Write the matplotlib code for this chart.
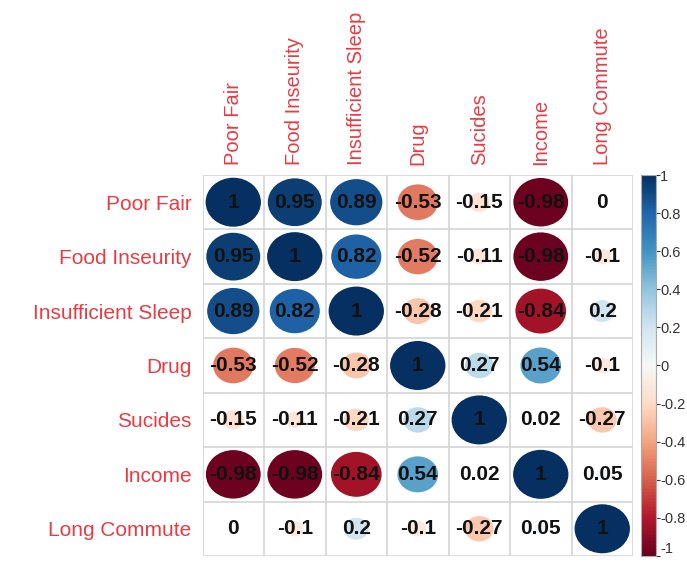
import numpy as np
import matplotlib.pyplot as plt
from matplotlib.patches import Ellipse
from matplotlib import cm, colors

plt.rcParams['font.family'] = ['Liberation Sans', 'DejaVu Sans']

# variables and their correlation matrix
labels = ["Poor Fair", "Food Inseurity", "Insufficient Sleep", "Drug",
          "Sucides", "Income", "Long Commute"]

r_poor = [1, 0.95, 0.89, -0.53, -0.15, -0.98, 0]
r_food = [0.95, 1, 0.82, -0.52, -0.11, -0.98, -0.1]
r_sleep = [0.89, 0.82, 1, -0.28, -0.21, -0.84, 0.2]
r_drug = [-0.53, -0.52, -0.28, 1, 0.27, 0.54, -0.1]
r_suic = [-0.15, -0.11, -0.21, 0.27, 1, 0.02, -0.27]
r_income = [-0.98, -0.98, -0.84, 0.54, 0.02, 1, 0.05]
r_commute = [0, -0.1, 0.2, -0.1, -0.27, 0.05, 1]

corr = np.array([r_poor, r_food, r_sleep, r_drug, r_suic, r_income, r_commute])
n = len(labels)

cbar_ticks = [1, 0.8, 0.6, 0.4, 0.2, 0, -0.2, -0.4, -0.6, -0.8, -1]

cmap = plt.get_cmap("RdBu")
norm = colors.Normalize(vmin=-1, vmax=1)
lab_col = "#e63c44"

fig = plt.figure(figsize=(6.87, 5.62), dpi=100)
ax = fig.add_axes([0.2948, 0.0107, 0.6266, 0.6779])

# cells: circle area proportional to |r|
for i in range(n):
    for j in range(n):
        v = corr[i, j]
        d = 0.9 * np.sqrt(abs(v))
        if d > 0:
            ax.add_patch(Ellipse((j, i), d, d, facecolor=cmap(norm(v)),
                                 edgecolor="none", zorder=2))
        ax.text(j, i, f"{v:g}", ha="center", va="center", fontsize=15,
                fontweight="bold", color="#111111", zorder=3)

# grid
for k in range(n + 1):
    ax.axhline(k - 0.5, color="#d4d4d4", lw=1.2, zorder=1)
    ax.axvline(k - 0.5, color="#d4d4d4", lw=1.2, zorder=1)

ax.set_xlim(-0.5, n - 0.5)
ax.set_ylim(n - 0.5, -0.5)
ax.set_aspect("auto")
for s in ax.spines.values():
    s.set_visible(False)

ax.set_yticks(range(n))
ax.set_yticklabels(labels, color=lab_col, fontsize=15)
ax.tick_params(axis="y", length=0, pad=8)
ax.xaxis.tick_top()
ax.set_xticks(range(n))
ax.set_xticklabels(labels, color=lab_col, fontsize=14.5, rotation=90)
ax.tick_params(axis="x", length=0, pad=7)

# colour legend
cax = fig.add_axes([0.9330, 0.0107, 0.0218, 0.6779])
cb = fig.colorbar(cm.ScalarMappable(norm=norm, cmap=cmap), cax=cax,
                  ticks=cbar_ticks)
cb.ax.set_yticklabels([f"{t:g}" for t in cbar_ticks])
cb.ax.tick_params(labelsize=10.5, length=3, width=0.8, pad=0,
                  colors="#333333")
# keep the bottom label inside the figure
for t in cb.ax.get_yticklabels():
    if t.get_text() == "-1":
        t.set_verticalalignment("bottom")
cb.outline.set_edgecolor("#aaaaaa")

fig.savefig("out.png", dpi=100)
